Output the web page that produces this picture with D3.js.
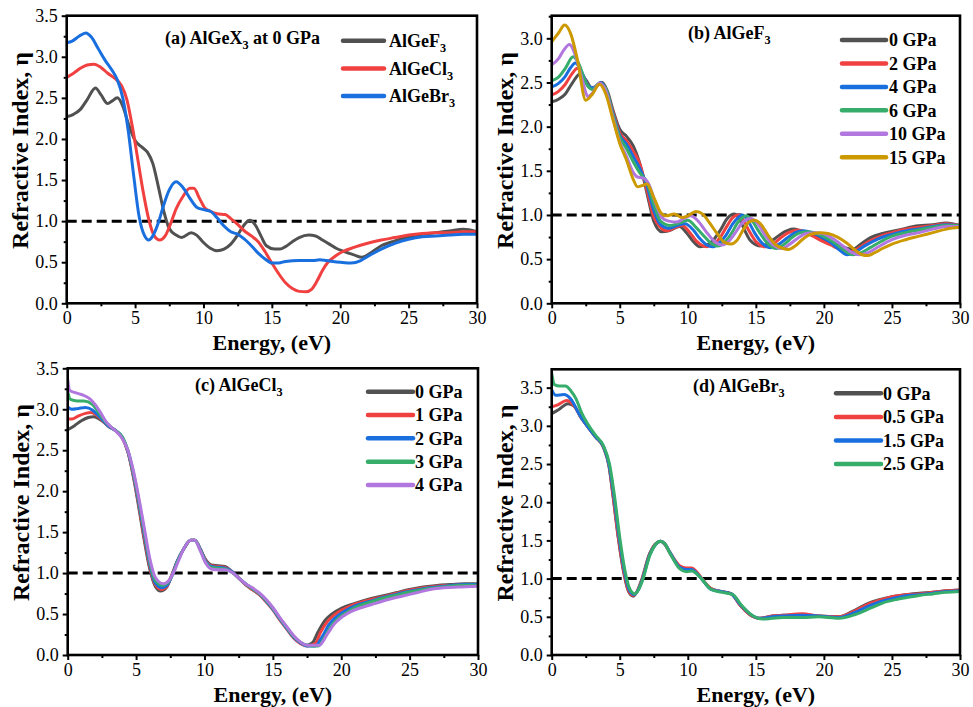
<!DOCTYPE html>
<html><head><meta charset="utf-8">
<script src="https://cdn.jsdelivr.net/npm/d3@7"></script>
<style>
body{margin:0;background:#fff}
svg{display:block}
text{font-family:"Liberation Serif","Times New Roman",serif;fill:#000}
</style>
</head><body>
<svg id="chart" width="973" height="707"></svg>
<script>
// ---------------- DATA ----------------
const energyTicks = [0, 5, 10, 15, 20, 25, 30];
const energyMinor = [2.5, 7.5, 12.5, 17.5, 22.5, 27.5];
const yTicksA = [0, 0.5, 1.0, 1.5, 2.0, 2.5, 3.0, 3.5];
const yTicksB = [0, 0.5, 1.0, 1.5, 2.0, 2.5, 3.0];
const yTicksC = [0, 0.5, 1.0, 1.5, 2.0, 2.5, 3.0, 3.5];
const yTicksD = [0, 0.5, 1.0, 1.5, 2.0, 2.5, 3.0, 3.5];
const referenceLine = 1.0;

// Panel (a): AlGeX3 at 0 GPa  [energy (eV), refractive index]
const aF3 = [[0,2.27],[0.5,2.30],[1,2.36],[1.5,2.48],[2.1,2.62],[2.5,2.54],[3.0,2.43],[3.3,2.46],[3.7,2.50],[4.1,2.40],[4.5,2.19],[5,1.98],[5.5,1.90],[5.9,1.84],[6.3,1.70],[6.7,1.42],[7.1,1.12],[7.5,0.91],[8,0.83],[8.4,0.80],[9.1,0.86],[9.5,0.83],[10,0.74],[10.5,0.67],[11,0.64],[11.5,0.66],[12,0.72],[12.5,0.83],[13,0.96],[13.4,1.01],[13.8,0.95],[14.2,0.82],[14.6,0.70],[15.2,0.66],[15.6,0.66],[16,0.69],[16.5,0.75],[17,0.80],[17.7,0.83],[18.2,0.82],[18.7,0.77],[19.2,0.72],[19.7,0.67],[20.3,0.63],[21,0.59],[21.6,0.56],[22.1,0.60],[23,0.70],[24,0.76],[25,0.81],[26,0.84],[27,0.86],[28,0.88],[29,0.90],[30,0.87]];
const aCl3 = [[0,2.75],[0.5,2.80],[1,2.86],[1.5,2.90],[2,2.91],[2.5,2.87],[3,2.80],[3.5,2.74],[4,2.65],[4.4,2.48],[4.8,2.15],[5.2,1.75],[5.6,1.35],[6,1.02],[6.4,0.82],[6.8,0.77],[7.2,0.82],[7.6,0.97],[8,1.15],[8.5,1.30],[9,1.40],[9.3,1.40],[9.7,1.28],[10.1,1.16],[10.5,1.12],[11,1.09],[11.6,1.08],[12,1.03],[12.5,0.96],[13,0.88],[13.5,0.82],[14,0.75],[14.5,0.63],[15,0.49],[15.5,0.36],[16,0.25],[16.5,0.18],[17,0.145],[17.5,0.14],[17.9,0.17],[18.3,0.27],[18.7,0.40],[19.1,0.50],[19.6,0.57],[20.2,0.63],[21,0.68],[22,0.73],[23,0.77],[24,0.80],[25,0.83],[26,0.85],[27,0.86],[28,0.86],[29,0.87],[30,0.87]];
const aBr3 = [[0,3.17],[0.4,3.19],[0.9,3.25],[1.4,3.29],[1.8,3.24],[2.3,3.10],[2.8,2.96],[3.3,2.84],[3.7,2.72],[4.1,2.50],[4.5,2.10],[4.9,1.55],[5.3,1.05],[5.7,0.82],[6.0,0.77],[6.3,0.82],[6.7,0.98],[7.1,1.20],[7.5,1.38],[8,1.48],[8.5,1.41],[9,1.28],[9.5,1.17],[10,1.14],[10.5,1.12],[11,1.04],[11.5,0.94],[12,0.87],[12.5,0.84],[13,0.78],[13.5,0.70],[14,0.61],[14.5,0.54],[15,0.49],[15.5,0.49],[16,0.51],[17,0.52],[18,0.52],[18.5,0.53],[19,0.52],[20,0.50],[20.8,0.49],[21.5,0.52],[22,0.57],[23,0.66],[24,0.73],[25,0.78],[26,0.81],[27,0.82],[28,0.83],[29,0.84],[30,0.84]];

// Panel (b): AlGeF3 under pressure
const bP0 = [[0,2.28],[0.5,2.31],[1,2.37],[1.5,2.49],[2.1,2.60],[2.5,2.53],[3.0,2.43],[3.3,2.46],[3.7,2.50],[4.1,2.40],[4.5,2.19],[5,1.97],[5.5,1.89],[6,1.78],[6.4,1.62],[6.8,1.38],[7.1,1.18],[7.5,0.93],[8.1,0.81],[8.6,0.82],[9.4,0.87],[9.9,0.80],[10.4,0.70],[10.9,0.64],[11.4,0.66],[11.9,0.72],[12.4,0.83],[12.9,0.96],[13.4,1.01],[13.8,0.95],[14.2,0.82],[14.6,0.71],[15.3,0.65],[15.7,0.66],[16.2,0.71],[16.8,0.78],[17.75,0.84],[18.3,0.82],[19,0.78],[19.7,0.74],[20.4,0.69],[21.2,0.65],[22.1,0.61],[22.8,0.68],[23.5,0.75],[24.3,0.79],[25.5,0.83],[26.6,0.87],[28,0.89],[29,0.91],[30,0.88]];
const bP2 = [[0,2.36],[0.5,2.40],[1,2.48],[1.5,2.60],[1.9,2.66],[2.3,2.58],[2.8,2.44],[3.2,2.45],[3.6,2.50],[4.0,2.40],[4.5,2.17],[5,1.93],[5.5,1.84],[6,1.72],[6.5,1.57],[7,1.28],[7.5,0.98],[8,0.86],[8.5,0.82],[9.1,0.86],[9.6,0.88],[10.1,0.81],[10.6,0.71],[11.0,0.66],[11.4,0.64],[11.9,0.67],[12.4,0.75],[12.9,0.88],[13.3,0.97],[13.7,1.00],[14.1,0.94],[14.5,0.82],[15,0.70],[15.7,0.64],[16.2,0.66],[16.8,0.74],[17.4,0.80],[18.1,0.83],[18.6,0.81],[19.2,0.76],[19.8,0.71],[20.5,0.66],[21.2,0.61],[21.9,0.58],[22.5,0.62],[23.2,0.69],[24,0.75],[25,0.80],[26,0.84],[27,0.86],[28,0.88],[29,0.90],[30,0.88]];
const bP4 = [[0,2.45],[0.5,2.49],[1,2.57],[1.4,2.67],[1.73,2.72],[2.2,2.62],[2.7,2.46],[3.1,2.44],[3.6,2.50],[4.0,2.41],[4.5,2.15],[5,1.90],[5.5,1.80],[6,1.66],[6.5,1.52],[7,1.33],[7.5,1.05],[8,0.89],[8.6,0.85],[9.2,0.88],[9.8,0.90],[10.4,0.83],[10.9,0.73],[11.4,0.66],[11.8,0.64],[12.3,0.68],[12.8,0.77],[13.3,0.90],[13.7,0.97],[14.0,1.00],[14.4,0.94],[14.9,0.80],[15.4,0.69],[16.1,0.63],[16.7,0.67],[17.3,0.74],[17.9,0.80],[18.5,0.82],[19.1,0.80],[19.7,0.76],[20.4,0.70],[21.1,0.61],[21.7,0.55],[22.3,0.58],[23,0.65],[24,0.73],[25,0.78],[26,0.82],[27,0.84],[28,0.87],[29,0.89],[30,0.88]];
const bP6 = [[0,2.52],[0.5,2.56],[1,2.66],[1.57,2.79],[2.0,2.71],[2.5,2.50],[3.0,2.42],[3.5,2.49],[4.0,2.42],[4.5,2.13],[5,1.88],[5.5,1.75],[6,1.60],[6.5,1.47],[7,1.37],[7.5,1.12],[8,0.93],[8.7,0.88],[9.4,0.91],[10.0,0.94],[10.6,0.86],[11.2,0.76],[11.7,0.68],[12.2,0.65],[12.7,0.69],[13.2,0.79],[13.7,0.92],[14.3,0.99],[14.7,0.94],[15.2,0.82],[15.8,0.69],[16.5,0.62],[17.1,0.67],[17.7,0.75],[18.3,0.80],[18.9,0.81],[19.5,0.79],[20.2,0.74],[20.9,0.67],[21.5,0.60],[22.1,0.55],[22.7,0.57],[23.4,0.63],[24.2,0.70],[25,0.76],[26,0.80],[27,0.83],[28,0.86],[29,0.88],[30,0.88]];
const bP10 = [[0,2.70],[0.5,2.77],[0.9,2.87],[1.3,2.93],[1.8,2.78],[2.3,2.50],[2.65,2.34],[3.0,2.38],[3.5,2.49],[4.0,2.40],[4.5,2.10],[5,1.83],[5.5,1.66],[6,1.48],[6.3,1.43],[6.7,1.42],[7.1,1.36],[7.6,1.15],[8.1,0.97],[8.6,0.93],[9.2,0.92],[9.7,0.96],[10.2,0.99],[10.7,0.94],[11.3,0.82],[11.9,0.71],[12.5,0.66],[13.0,0.70],[13.5,0.80],[14.0,0.91],[14.6,0.96],[15.1,0.91],[15.6,0.79],[16.2,0.67],[16.9,0.62],[17.5,0.67],[18.1,0.74],[18.7,0.79],[19.3,0.80],[19.9,0.79],[20.6,0.74],[21.3,0.66],[22.0,0.58],[22.6,0.55],[23.2,0.57],[24,0.64],[25,0.72],[26,0.77],[27,0.80],[28,0.84],[29,0.87],[30,0.87]];
const bP15 = [[0,2.96],[0.5,3.06],[0.95,3.15],[1.4,3.05],[1.9,2.75],[2.5,2.30],[3.0,2.37],[3.5,2.48],[4.0,2.36],[4.5,2.08],[5,1.81],[5.5,1.62],[6,1.40],[6.3,1.32],[6.6,1.33],[7,1.35],[7.5,1.20],[8,1.03],[8.4,0.99],[9,1.01],[9.6,0.97],[10,0.99],[10.6,1.04],[11.1,1.01],[11.6,0.91],[12.2,0.78],[12.7,0.69],[13.2,0.67],[13.6,0.71],[14.1,0.84],[14.5,0.92],[14.9,0.94],[15.4,0.89],[15.9,0.77],[16.4,0.67],[17,0.62],[17.4,0.61],[17.9,0.65],[18.4,0.72],[19,0.78],[19.7,0.80],[20.3,0.79],[21,0.75],[21.7,0.68],[22.3,0.60],[22.8,0.55],[23.2,0.54],[23.7,0.57],[24.3,0.62],[25,0.67],[26,0.72],[27,0.76],[28,0.80],[29,0.84],[30,0.86]];

// Panel (c): AlGeCl3 under pressure
const cP0 = [[0,2.75],[0.5,2.80],[1,2.86],[1.5,2.90],[1.9,2.91],[2.5,2.86],[3,2.79],[3.5,2.74],[4,2.65],[4.4,2.48],[4.8,2.18],[5.2,1.80],[5.6,1.40],[6,1.05],[6.4,0.84],[6.8,0.78],[7.2,0.82],[7.6,0.97],[8,1.14],[8.5,1.30],[9,1.40],[9.3,1.40],[9.7,1.29],[10.1,1.16],[10.5,1.10],[11,1.09],[11.5,1.08],[12,1.02],[12.5,0.94],[13,0.86],[13.5,0.80],[14,0.74],[14.5,0.66],[15,0.57],[15.5,0.45],[16,0.34],[16.5,0.23],[17,0.15],[17.5,0.12],[17.9,0.15],[18.3,0.28],[18.8,0.42],[19.3,0.50],[20,0.57],[21,0.63],[22,0.68],[23,0.72],[24,0.76],[25,0.80],[26,0.83],[27,0.85],[28,0.86],[29,0.87],[30,0.87]];
const cP1 = [[0,2.88],[0.3,2.88],[0.8,2.92],[1.3,2.95],[1.7,2.96],[2.1,2.93],[2.5,2.87],[3,2.79],[3.5,2.74],[4,2.65],[4.4,2.48],[4.8,2.19],[5.2,1.83],[5.6,1.43],[6,1.08],[6.4,0.86],[6.85,0.80],[7.25,0.84],[7.6,0.97],[8,1.14],[8.5,1.30],[9,1.40],[9.3,1.40],[9.7,1.29],[10.1,1.15],[10.5,1.09],[11,1.08],[11.5,1.07],[12,1.02],[12.5,0.94],[13,0.86],[13.5,0.80],[14,0.74],[14.5,0.65],[15,0.55],[15.5,0.43],[16,0.32],[16.5,0.21],[17,0.14],[17.5,0.11],[18.1,0.14],[18.5,0.28],[19,0.41],[19.5,0.49],[20.2,0.56],[21,0.62],[22,0.67],[23,0.71],[24,0.75],[25,0.79],[26,0.82],[27,0.84],[28,0.85],[29,0.86],[30,0.86]];
const cP2 = [[0,3.03],[0.3,3.00],[0.8,3.01],[1.3,3.02],[1.8,2.99],[2.2,2.93],[2.6,2.86],[3,2.79],[3.5,2.74],[4,2.66],[4.4,2.49],[4.8,2.21],[5.2,1.86],[5.6,1.47],[6,1.11],[6.4,0.88],[6.9,0.82],[7.3,0.86],[7.65,0.98],[8,1.14],[8.5,1.30],[9,1.40],[9.3,1.40],[9.7,1.29],[10.1,1.14],[10.5,1.08],[11,1.07],[11.5,1.06],[12,1.02],[12.5,0.94],[13,0.87],[13.5,0.81],[14,0.75],[14.5,0.66],[15,0.56],[15.5,0.44],[16,0.33],[16.5,0.22],[17,0.15],[17.5,0.11],[18.1,0.11],[18.6,0.22],[19.1,0.37],[19.6,0.46],[20.3,0.54],[21,0.60],[22,0.65],[23,0.70],[24,0.74],[25,0.78],[26,0.81],[27,0.83],[28,0.85],[29,0.86],[30,0.86]];
const cP3 = [[0,3.22],[0.2,3.12],[0.7,3.10],[1.2,3.10],[1.8,3.06],[2.3,2.95],[2.7,2.86],[3.1,2.79],[3.5,2.74],[4,2.66],[4.4,2.50],[4.8,2.23],[5.2,1.89],[5.6,1.51],[6,1.14],[6.4,0.91],[6.95,0.85],[7.35,0.89],[7.7,0.99],[8,1.13],[8.5,1.30],[9,1.40],[9.3,1.40],[9.7,1.28],[10.1,1.13],[10.5,1.07],[11,1.06],[11.5,1.05],[12,1.01],[12.5,0.94],[13,0.87],[13.5,0.81],[14,0.75],[14.5,0.67],[15,0.57],[15.5,0.45],[16,0.34],[16.5,0.23],[17,0.16],[17.5,0.12],[18.3,0.11],[18.8,0.22],[19.3,0.36],[19.8,0.45],[20.4,0.52],[21,0.58],[22,0.64],[23,0.69],[24,0.73],[25,0.77],[26,0.80],[27,0.82],[28,0.84],[29,0.85],[30,0.85]];
const cP4 = [[0,3.36],[0.15,3.23],[0.6,3.20],[1.0,3.18],[1.6,3.13],[2.0,3.06],[2.4,2.96],[2.8,2.85],[3.2,2.78],[3.6,2.72],[4,2.64],[4.4,2.50],[4.8,2.25],[5.2,1.92],[5.6,1.55],[6,1.18],[6.4,0.95],[7.0,0.87],[7.4,0.91],[7.75,1.01],[8.1,1.15],[8.5,1.30],[9,1.40],[9.3,1.40],[9.7,1.27],[10.1,1.12],[10.5,1.05],[11,1.04],[11.5,1.04],[12,1.01],[12.5,0.94],[13,0.87],[13.5,0.82],[14,0.76],[14.5,0.68],[15,0.58],[15.5,0.46],[16,0.35],[16.5,0.24],[17,0.16],[17.5,0.12],[18.4,0.12],[19,0.26],[19.5,0.38],[20.1,0.47],[20.7,0.53],[21.5,0.58],[22.5,0.63],[23.5,0.68],[24.5,0.72],[25.5,0.76],[26.5,0.80],[27.5,0.82],[28.5,0.83],[30,0.84]];

// Panel (d): AlGeBr3 under pressure
const dP0 = [[0,3.16],[0.5,3.21],[1.2,3.29],[1.7,3.25],[2.1,3.12],[2.6,3.00],[3.2,2.86],[3.8,2.72],[4.2,2.48],[4.5,2.09],[4.9,1.52],[5.3,1.07],[5.65,0.83],[6.0,0.77],[6.3,0.84],[6.6,0.98],[7.2,1.33],[7.6,1.45],[8.0,1.49],[8.3,1.45],[8.7,1.33],[9.4,1.16],[9.9,1.13],[10.3,1.13],[10.6,1.09],[11.0,1.00],[11.7,0.87],[12.5,0.83],[13.2,0.80],[13.9,0.64],[14.7,0.51],[15.2,0.48],[16.2,0.51],[17,0.52],[18.4,0.53],[19.6,0.51],[21.1,0.50],[22.1,0.57],[23.3,0.68],[24,0.72],[25.2,0.77],[26,0.79],[27,0.81],[28,0.82],[29,0.84],[30,0.85]];
const dP05 = [[0,3.25],[0.4,3.27],[1.1,3.33],[1.6,3.27],[2.1,3.13],[2.6,3.00],[3.2,2.86],[3.8,2.72],[4.2,2.49],[4.5,2.10],[4.9,1.54],[5.3,1.09],[5.65,0.84],[6.0,0.78],[6.3,0.84],[6.6,0.97],[7.2,1.32],[7.6,1.45],[8.0,1.49],[8.3,1.46],[8.7,1.34],[9.4,1.17],[9.9,1.14],[10.3,1.14],[10.6,1.10],[11.0,1.01],[11.7,0.87],[12.5,0.83],[13.2,0.80],[13.9,0.64],[14.7,0.51],[15.2,0.48],[16.2,0.51],[17,0.52],[18.4,0.54],[19.6,0.51],[21.1,0.50],[22.1,0.56],[23.3,0.67],[24,0.71],[25.2,0.77],[26,0.79],[27,0.80],[28,0.82],[29,0.84],[30,0.85]];
const dP15 = [[0,3.47],[0.3,3.40],[0.9,3.41],[1.4,3.35],[2.0,3.16],[2.6,3.00],[3.2,2.86],[3.8,2.73],[4.2,2.50],[4.55,2.10],[4.95,1.54],[5.35,1.09],[5.7,0.85],[6.05,0.79],[6.35,0.85],[6.65,0.98],[7.2,1.31],[7.6,1.44],[8.0,1.49],[8.3,1.46],[8.7,1.34],[9.4,1.15],[9.9,1.12],[10.3,1.12],[10.6,1.08],[11.0,1.00],[11.7,0.86],[12.5,0.83],[13.2,0.80],[13.9,0.65],[14.7,0.52],[15.3,0.48],[16.2,0.50],[17,0.51],[18.4,0.52],[19.6,0.51],[21.1,0.49],[22.2,0.55],[23.4,0.65],[24.2,0.70],[25.3,0.75],[26.2,0.78],[27,0.79],[28,0.81],[29,0.83],[30,0.84]];
const dP25 = [[0,3.69],[0.2,3.54],[0.6,3.52],[1.0,3.52],[1.4,3.46],[1.8,3.35],[2.2,3.17],[2.7,3.01],[3.2,2.88],[3.8,2.74],[4.25,2.50],[4.6,2.10],[5.0,1.54],[5.4,1.09],[5.75,0.86],[6.1,0.80],[6.4,0.86],[6.7,0.99],[7.2,1.30],[7.6,1.44],[8.0,1.49],[8.3,1.46],[8.7,1.33],[9.4,1.13],[9.9,1.09],[10.3,1.10],[10.6,1.07],[11.0,1.00],[11.7,0.86],[12.5,0.82],[13.3,0.79],[14.0,0.64],[14.8,0.51],[15.5,0.47],[16.2,0.48],[17,0.49],[18.4,0.49],[19.6,0.50],[21.1,0.48],[22.3,0.53],[23.5,0.62],[24.3,0.68],[25.4,0.73],[26.3,0.76],[27,0.78],[28,0.80],[29,0.82],[30,0.83]];

const labelsA = ["AlGeF_3", "AlGeCl_3", "AlGeBr_3"];
const labelsB = ["0 GPa", "2 GPa", "4 GPa", "6 GPa", "10 GPa", "15 GPa"];
const labelsC = ["0 GPa", "1 GPa", "2 GPa", "3 GPa", "4 GPa"];
const labelsD = ["0 GPa", "0.5 GPa", "1.5 GPa", "2.5 GPa"];
const titles = ["(a) AlGeX_3 at 0 GPa", "(b) AlGeF_3", "(c) AlGeCl_3", "(d) AlGeBr_3"];
const xTitle = "Energy, (eV)";
const yTitle = "Refractive Index, \u03b7";

// ---------------- STYLE / LAYOUT ----------------
const palette = ["#515151", "#F14040", "#1A6FDF", "#37AD6B", "#B177DE", "#CC9900"];
const colorsD = ["#515151", "#F14040", "#1A6FDF", "#37AD6B"];

const panels = [
  {box:[66.7,15.7,477,303.3], ymax:3.5, yTicks:yTicksA, series:[aF3,aCl3,aBr3], colors:palette, labels:labelsA, title:titles[0],
   titleX:165, titleY:38, xTitleY:350, leg:{x1:343,x2:384,tx:389,y0:40.7,dy:27.7}},
  {box:[551.7,15.7,960,303.3], ymax:3.256, yTicks:yTicksB, series:[bP0,bP2,bP4,bP6,bP10,bP15], colors:palette, labels:labelsB, title:titles[1],
   titleX:688, titleY:33, xTitleY:350, leg:{x1:842,x2:886,tx:889,y0:40,dy:23.45}},
  {box:[67.7,368.3,478,655], ymax:3.5, yTicks:yTicksC, series:[cP0,cP1,cP2,cP3,cP4], colors:palette, labels:labelsC, title:titles[2],
   titleX:195, titleY:385, xTitleY:702, leg:{x1:368,x2:413,tx:415,y0:391.7,dy:23.33}},
  {box:[551.7,369.3,960,655], ymax:3.74, yTicks:yTicksD, series:[dP0,dP05,dP15,dP25], colors:colorsD, labels:labelsD, title:titles[3],
   titleX:693, titleY:386, xTitleY:702, leg:{x1:836,x2:881,tx:883,y0:393.3,dy:23.6}}
];

const svg = d3.select("#chart");

function richText(sel, str) {
  const parts = str.split(/_(\d)/);
  parts.forEach((p, i) => {
    if (p === "") return;
    if (i % 2 === 1) {
      sel.append("tspan").attr("font-size", "0.68em").attr("dy", 5).text(p);
    } else {
      const t = sel.append("tspan").text(p);
      if (i > 0) t.attr("dy", -5);
    }
  });
}

panels.forEach((p, pi) => {
  const [x0, y0, x1, y1] = p.box;
  const x = d3.scaleLinear().domain([0, 30]).range([x0, x1]);
  const y = d3.scaleLinear().domain([0, p.ymax]).range([y1, y0]);
  const g = svg.append("g");

  const clipId = "clip" + pi;
  svg.append("clipPath").attr("id", clipId).append("rect")
    .attr("x", x0).attr("y", y0).attr("width", x1 - x0).attr("height", y1 - y0);

  // axes
  const xAxis = d3.axisBottom(x).tickValues(energyTicks).tickFormat(d3.format("d")).tickSize(5).tickPadding(3);
  const xMinor = d3.axisBottom(x).tickValues(energyMinor).tickFormat("").tickSize(3);
  const yMinorVals = d3.range(0.25, p.ymax + 0.001, 0.5);
  const yAxis = d3.axisLeft(y).tickValues(p.yTicks).tickFormat(d3.format(".1f")).tickSize(5).tickPadding(4);
  const yMinor = d3.axisLeft(y).tickValues(yMinorVals).tickFormat("").tickSize(3);

  [[xAxis, "translate(0," + y1 + ")"], [xMinor, "translate(0," + y1 + ")"],
   [yAxis, "translate(" + x0 + ",0)"], [yMinor, "translate(" + x0 + ",0)"]].forEach(([ax, tr]) => {
    const a = g.append("g").attr("transform", tr).call(ax);
    a.select(".domain").remove();
    a.selectAll("line").attr("stroke", "#000").attr("stroke-width", 2);
    a.selectAll("text").attr("font-size", 18).attr("font-family", "Liberation Serif").attr("fill", "#000");
  });

  // dashed reference line
  g.append("line")
    .attr("x1", x0).attr("x2", x1)
    .attr("y1", y(referenceLine)).attr("y2", y(referenceLine))
    .attr("stroke", "#000").attr("stroke-width", 3).attr("stroke-dasharray", "10,5");

  // curves
  const line = d3.line().x(d => x(d[0])).y(d => y(d[1])).curve(d3.curveMonotoneX);
  const cg = g.append("g").attr("clip-path", "url(#" + clipId + ")");
  p.series.forEach((s, i) => {
    cg.append("path").datum(s).attr("d", line)
      .attr("fill", "none").attr("stroke", p.colors[i]).attr("stroke-width", 3)
      .attr("stroke-linejoin", "round").attr("stroke-linecap", "round");
  });

  // frame
  g.append("rect").attr("x", x0).attr("y", y0).attr("width", x1 - x0).attr("height", y1 - y0)
    .attr("fill", "none").attr("stroke", "#000").attr("stroke-width", 2.6);

  // title
  const tt = g.append("text").attr("x", p.titleX).attr("y", p.titleY).attr("dy", "0.35em")
    .attr("font-size", 18).attr("font-weight", "bold");
  richText(tt, p.title);

  // legend
  p.labels.forEach((lab, i) => {
    const ly = p.leg.y0 + i * p.leg.dy;
    g.append("line").attr("x1", p.leg.x1).attr("x2", p.leg.x2).attr("y1", ly).attr("y2", ly)
      .attr("stroke", p.colors[i]).attr("stroke-width", 4.5).attr("stroke-linecap", "round");
    const t = g.append("text").attr("x", p.leg.tx).attr("y", ly).attr("dy", "0.35em")
      .attr("font-size", 18).attr("font-weight", "bold");
    richText(t, lab);
  });

  // axis titles
  g.append("text").attr("x", (x0 + x1) / 2).attr("y", p.xTitleY)
    .attr("text-anchor", "middle").attr("font-size", 22).attr("font-weight", "bold").text(xTitle);
  const yc = (y0 + y1) / 2 - 9;
  const yx = x0 - 47;
  g.append("text").attr("transform", "translate(" + yx + "," + yc + ") rotate(-90)")
    .attr("text-anchor", "middle").attr("dy", "0.35em")
    .attr("font-size", 24).attr("font-weight", "bold").text(yTitle);
});
</script>
</body></html>
